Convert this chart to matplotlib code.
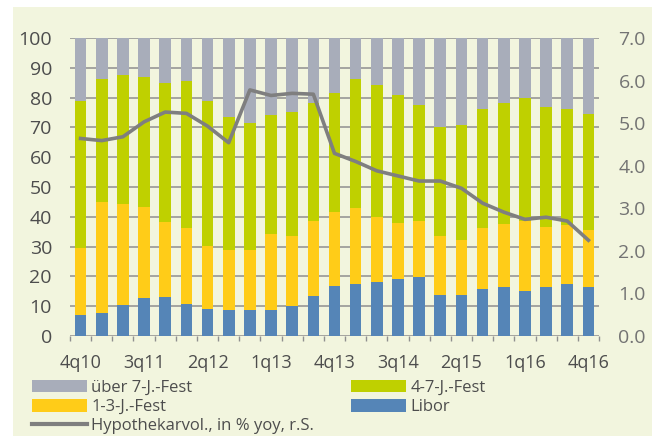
import matplotlib
matplotlib.use("Agg")
import matplotlib.pyplot as plt
from matplotlib.patches import Rectangle, Patch
from matplotlib.lines import Line2D
import numpy as np

plt.rcParams['font.family'] = ['Open Sans', 'DejaVu Sans']

# --- data ---
quartale = ["4q10", "1q11", "2q11", "3q11", "4q11", "1q12", "2q12", "3q12", "4q12",
            "1q13", "2q13", "3q13", "4q13", "1q14", "2q14", "3q14", "4q14",
            "1q15", "2q15", "3q15", "4q15", "1q16", "2q16", "3q16", "4q16"]
libor = [7.1, 7.8, 10.3, 12.8, 13.1, 10.8, 8.9, 8.8, 8.8, 8.7, 10.1, 13.3, 16.8,
         17.6, 18.1, 19.1, 19.8, 13.6, 13.6, 15.7, 16.4, 15.2, 16.5, 17.6, 16.5]
fest_1_3 = [22.3, 37.1, 34.0, 30.6, 25.3, 25.5, 21.4, 20.1, 20.1, 25.5, 23.6, 25.2, 24.9,
            25.3, 21.7, 18.9, 18.9, 20.0, 18.6, 20.6, 21.3, 23.3, 20.2, 19.6, 19.2]
fest_4_7 = [49.6, 41.4, 43.2, 43.5, 46.4, 49.4, 48.7, 44.7, 42.5, 40.0, 41.5, 39.6, 39.7,
            43.4, 44.4, 42.8, 38.7, 36.6, 38.5, 39.8, 40.5, 41.5, 40.0, 38.9, 38.9]
ueber_7 = [100 - a - b - c for a, b, c in zip(libor, fest_1_3, fest_4_7)]
hypo_vol = [4.64, 4.59, 4.68, 5.03, 5.26, 5.23, 4.93, 4.54, 5.78, 5.65, 5.70, 5.68, 4.29,
            4.10, 3.88, 3.76, 3.64, 3.64, 3.47, 3.12, 2.91, 2.74, 2.79, 2.70, 2.25]

farben = {"ueber": "#A8ADBA", "4_7": "#BFD000", "1_3": "#FFCC18", "libor": "#5585B7"}
linien_farbe = "#7F7F7F"
bg = "#F2F5DE"

fig = plt.figure(figsize=(6.57, 4.36), dpi=100)
fig.patch.set_facecolor("white")
fig.patches.append(Rectangle((13 / 657, 0), (652 - 13) / 657, 1 - 7.3 / 436,
                             transform=fig.transFigure, facecolor=bg, edgecolor="none", zorder=-10))

ax = fig.add_axes([70 / 657, 1 - 336 / 436, 529 / 657, 298 / 436])
ax.set_facecolor("none")
x = np.arange(len(quartale))
w = 0.55
ax.bar(x, libor, w, color=farben["libor"], zorder=3)
ax.bar(x, fest_1_3, w, bottom=libor, color=farben["1_3"], zorder=3)
b2 = np.array(libor) + np.array(fest_1_3)
ax.bar(x, fest_4_7, w, bottom=b2, color=farben["4_7"], zorder=3)
b3 = b2 + np.array(fest_4_7)
ax.bar(x, ueber_7, w, bottom=b3, color=farben["ueber"], zorder=3)

ax.set_xlim(-0.5, len(quartale) - 0.5)
ax.set_ylim(0, 100)
ax.set_yticks(range(0, 101, 10))
ax.yaxis.grid(True, color="#8F8F8F", linewidth=1.1, zorder=1)
ax.set_axisbelow(True)
for s in ax.spines.values():
    s.set_visible(False)
ax.tick_params(axis="y", length=0, pad=13, labelsize=14, labelcolor="#4D4D4D")
ax.set_xticks(x[::3])
ax.set_xticklabels(quartale[::3])
ax.tick_params(axis="x", which="major", length=0, pad=13, labelsize=13, labelcolor="#4D4D4D")
ax.set_xticks(np.arange(-0.5, len(quartale), 1), minor=True)
ax.tick_params(axis="x", which="minor", length=3.6, width=1, color="#8F8F8F", direction="out")

ax2 = ax.twinx()
ax2.plot(x, hypo_vol, color=linien_farbe, linewidth=2.6, solid_joinstyle="round", zorder=4)
ax2.set_ylim(0, 7)
ax2.set_yticks(np.arange(0, 7.1, 1))
ax2.set_yticklabels([f"{v:.1f}" for v in np.arange(0, 7.1, 1)])
ax2.tick_params(axis="y", length=0, pad=14, labelsize=14, labelcolor="#737373")
for s in ax2.spines.values():
    s.set_visible(False)

# Legende in zwei Spalten
h1 = [Patch(facecolor=farben["ueber"]), Patch(facecolor=farben["1_3"]),
      Line2D([], [], color=linien_farbe, linewidth=3)]
l1 = ["über 7-J.-Fest", "1-3-J.-Fest", "Hypothekarvol., in % yoy, r.S."]
h2 = [Patch(facecolor=farben["4_7"]), Patch(facecolor=farben["libor"])]
l2 = ["4-7-J.-Fest", "Libor"]
kw = dict(frameon=False, fontsize=12, handlelength=3.3, handleheight=0.78,
          handletextpad=0.25, labelspacing=0.18, borderpad=0, borderaxespad=0, labelcolor="#4D4D4D")
leg1 = fig.legend(h1, l1, loc="center left", bbox_to_anchor=(32 / 657, 1 - 407 / 436), **kw)
leg2 = fig.legend(h2, l2, loc="center left", bbox_to_anchor=(351 / 657, 1 - 397.5 / 436), **kw)

fig.savefig("out.png", dpi=100, facecolor=fig.get_facecolor())
